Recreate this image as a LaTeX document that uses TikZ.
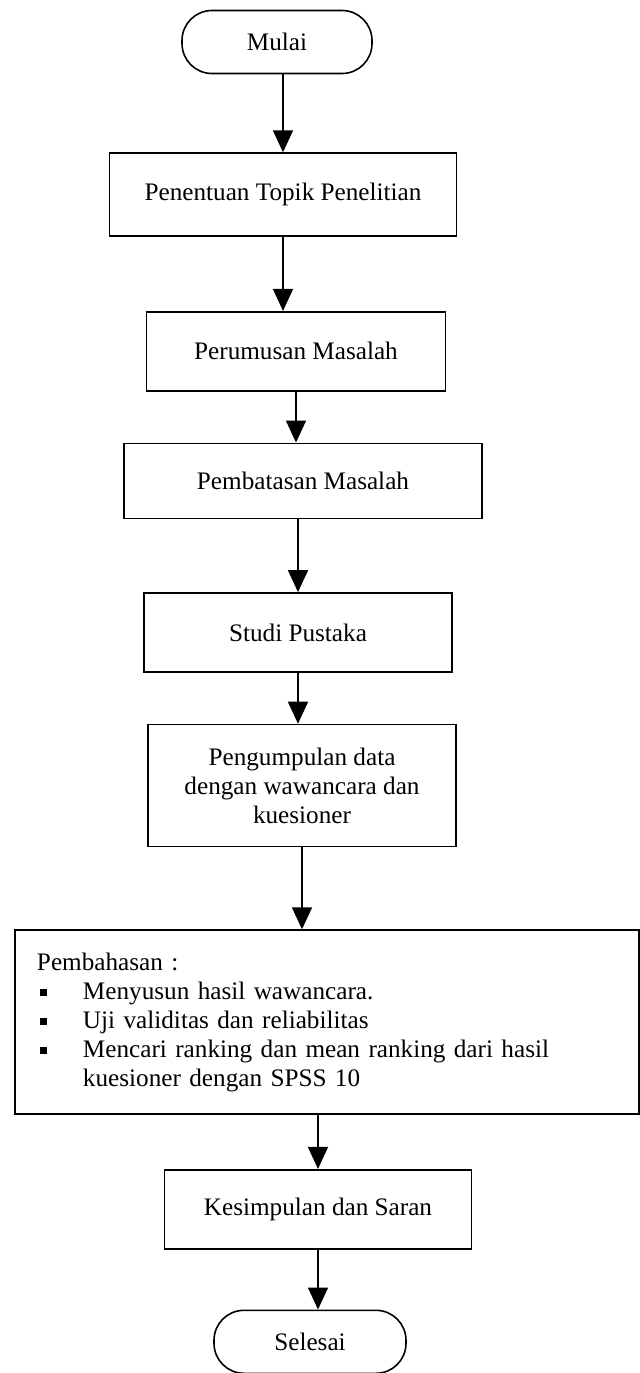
\documentclass[tikz,border=0pt]{standalone}
\usepackage{fontspec}
\setmainfont{Liberation Serif}
\usetikzlibrary{arrows.meta, positioning}

\begin{document}
\begin{tikzpicture}[x=0.5pt, y=-0.5pt,
  every node/.style={font=\fontsize{12.6}{14.5}\selectfont},
  proses/.style={draw, line width=0.8pt, rectangle, align=center, minimum height=39.5pt},
  terminal/.style={draw, line width=0.8pt, rectangle, rounded corners=15pt, minimum width=95pt, minimum height=31.5pt},
  panah/.style={line width=0.8pt, -{Triangle[length=11pt, width=10pt]}}]
\useasboundingbox (0,0) rectangle (640,1373);
\node (mulai) [terminal] at (277,42) {Mulai};
\node (topik) [proses, below=39pt of mulai, xshift=3pt, minimum width=173.5pt, minimum height=41.5pt] {Penentuan Topik Penelitian};
\node (rumusan) [proses, below=37pt of topik, xshift=6.5pt, minimum width=149.5pt] {Perumusan Masalah};
\node (batasan) [proses, below=25.5pt of rumusan, xshift=3.5pt, minimum width=179pt, minimum height=37.5pt] {Pembatasan Masalah};
\node (pustaka) [proses, below=36.5pt of batasan, xshift=-2.5pt, minimum width=154pt] {Studi Pustaka};
\node (data) [proses, below=25.5pt of pustaka, xshift=2pt, minimum width=154pt, minimum height=61pt] {Pengumpulan data\\dengan wawancara dan\\kuesioner};
\node (bahas) [proses, below=41pt of data, xshift=12.5pt, text width=290pt, inner xsep=11pt, minimum height=92pt, align=left] {Pembahasan :\\
  \makebox[23pt][l]{\hspace{1.5pt}\raisebox{1.5pt}{\rule{3.5pt}{3.5pt}}}Menyusun hasil wawancara.\\
  \makebox[23pt][l]{\hspace{1.5pt}\raisebox{1.5pt}{\rule{3.5pt}{3.5pt}}}Uji validitas dan reliabilitas\\
  \makebox[23pt][l]{\hspace{1.5pt}\raisebox{1.5pt}{\rule{3.5pt}{3.5pt}}}Mencari ranking dan mean ranking dari hasil\\
  \hspace*{23pt}kuesioner dengan SPSS 10};
\node (simpulan) [proses, below=27pt of bahas, xshift=-4.5pt, minimum width=153.5pt] {Kesimpulan dan Saran};
\node (selesai) [terminal, below=30pt of simpulan, xshift=-4pt, minimum width=96pt] {Selesai};
\draw [panah] (topik |- mulai.south) -- (topik.north);
\draw [panah] (topik) -- (topik |- rumusan.north);
\draw [panah] (rumusan) -- (rumusan |- batasan.north);
\draw [panah] (pustaka |- batasan.south) -- (pustaka.north);
\draw [panah] (pustaka) -- (pustaka |- data.north);
\draw [panah] (data) -- (data |- bahas.north);
\draw [panah] (simpulan |- bahas.south) -- (simpulan.north);
\draw [panah] (simpulan) -- (simpulan |- selesai.north);
\end{tikzpicture}
\end{document}
